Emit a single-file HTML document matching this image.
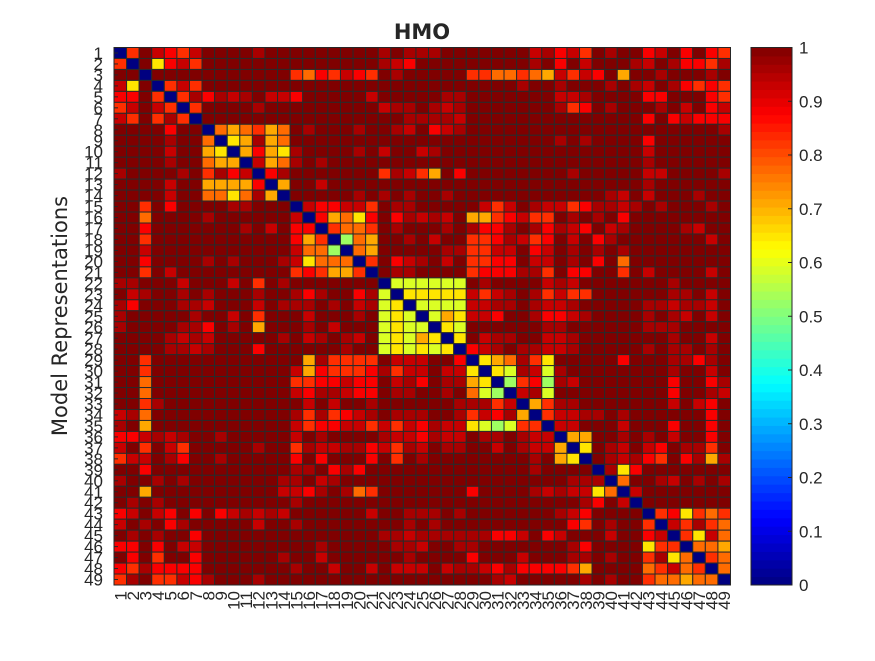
<!DOCTYPE html>
<html><head><meta charset="utf-8"><style>
html,body{margin:0;padding:0;background:#fff;}
svg text{font-family:"Liberation Sans",sans-serif;fill:#262626;}
</style></head><body>
<svg id="chart" width="875" height="656" viewBox="0 0 875 656" xmlns="http://www.w3.org/2000/svg">
<rect x="0" y="0" width="875" height="656" fill="#fff"/>
<text x="422" y="39" text-anchor="middle" font-size="21" font-weight="bold" style="font-family:'DejaVu Sans',sans-serif">HMO</text>
<text transform="translate(67,316) rotate(-90)" text-anchor="middle" font-size="21" style="font-family:'DejaVu Sans',sans-serif">Model Representations</text>
<g id="cells"></g>
<g id="ylabels"></g>
<g id="xlabels"></g>
<g id="cbar"></g>
</svg>
<script>
// Upper-triangle rows (row i, columns i..49); level codes -> values via levelValues
const levelCodes = "0123456789a";
const levelValues = [0, 0.53, 0.59, 0.65, 0.71, 0.77, 0.83, 0.88, 0.93, 0.96, 1.0];
const upperRows = [
"06a8768aaaa9aaaaaaaaa9a9"+"99aaaaaaa89786a9aa78a7a76",
"0a3786aaaaaaaaaaaaaa987"+"aaaaaaaaa9a7a8aaa98a97769",
"0aaaaaaaaaaa6576876a9a"+"aaaa66556548687a4aa9aaa9a",
"0686aaaaaaaaaaaaaaaaa"+"aaaaaaaa9aa9aaa9a98a97676",
"0697989a887aaaaa8aaa"+"aa99aaaaaaa889aaaa77aaa76",
"06aaaa9aaaaaaaaa899"+"a989aaaaaaa967a9aaa9a8a78",
"0aaaaaaaaaaaaaaaa9"+"9998aaaaaaaaaaaaaa7a78777",
"0545645a9aaa9aa98"+"a789aaaaaaaaaaaaaaaaaaaa9",
"034945aaaaaaaaaa"+"aaaaaaaaaaa9a9aaaa7aaaaaa",
"047439aaaa9a8aa"+"89aaaaaaaaaaaaaaaa8aaaaaa",
"08459a9aaaaaaa"+"aaaaaaaaaaaaaaaaaa9aaaaaa",
"079aaaaaaa698"+"64a7aaaaaaaa9aaaaa88aaaa9",
"04aa8aaaaaaa"+"aaaaaaaaaaaaaaaaaa9aaaaaa",
"0aaaaa9a9a9"+"aa9aaaaaaaaaaaa98a8aaa9aa",
"0877886a99"+"aaaaa868a988679989a9aaa9a",
"074537a79"+"898a4467866a9a9a7aaaaaaaa",
"06556a9a"+"aa9a9779a97987a89aaaa98a",
"0154aa9"+"a8aa667986 7a8a79aaaaaaa8a".replace(/ /g,""),
"054aaa"+"aa99668 8a78a9a9a9aaaaaaaa".replace(/ /g,""),
"06a78"+"9a8a6677a88a9a7a5aaaaaaaa",
"0a99"+"aaaa6777996a77aa6a8aaaa8a",
"0222222a9aaaa898aaaaaaa9aaaa",
"0333338689a96866aaaaaa99a8a",
"022228899a9889aaaaa998998a",
"0243887aa97789aaaa9a98a8a",
"032aaaaaa99aaaaaa999aaaa",
"03a899aa889aaaaaaa9aa8a",
"0789a99889aaaaa9a99a9a",
"0345963aaaaa7aaa9979a",
"032982 9aaaaaaaa9aa8a".replace(/ /g,""),
"0167198aaaaaaa7aa79",
"0892aaaaaaaaa7aa98",
"04699aaaaaaa8a87a",
"068899a9aaaaaa7a",
"088aaa8aaa7aa7a",
"044aa9a9a8aa7a",
"03a98a87a996a",
"0a989 76a7949".replace(/ /g,""),
"0937aaaaaaa",
"05aa98a9a9",
"08aaaaaaa",
"0aaaaaaa",
"0673656",
"086965",
"06385",
"0554",
"065",
"05",
"0"
];
const tickLabels = Array.from({length:49},(_,i)=>String(i+1));
const cbarTicks = [0,0.1,0.2,0.3,0.4,0.5,0.6,0.7,0.8,0.9,1];

const N = tickLabels.length;
const X0=114, X1=730.5, Y0=47.5, Y1=585;
const cw=(X1-X0)/N, ch=(Y1-Y0)/N;
const xScale = j => X0 + j*cw;
const yScale = i => Y0 + i*ch;
function jet(v){
  const c=t=>Math.max(0,Math.min(1,t));
  const r=c(1.5-Math.abs(4*v-3)), g=c(1.5-Math.abs(4*v-2)), b=c(1.5-Math.abs(4*v-1));
  return `rgb(${Math.round(r*255)},${Math.round(g*255)},${Math.round(b*255)})`;
}
function val(i,j){
  const a=Math.min(i,j), b=Math.max(i,j);
  const row=upperRows[a]||"";
  const ch=row[b-a]||"a";
  const k=levelCodes.indexOf(ch);
  return levelValues[k<0?10:k];
}
const NS="http://www.w3.org/2000/svg";
const cells=document.getElementById('cells');
for(let i=0;i<N;i++){for(let j=0;j<N;j++){
  const r=document.createElementNS(NS,'rect');
  r.setAttribute('x',xScale(j));r.setAttribute('y',yScale(i));
  r.setAttribute('width',cw);r.setAttribute('height',ch);
  r.setAttribute('fill',jet(val(i,j)));
  r.setAttribute('stroke','#2a2a2a');r.setAttribute('stroke-width','1');
  
  
  cells.appendChild(r);
}}
const yl=document.getElementById('ylabels'), xl=document.getElementById('xlabels');
for(let i=0;i<N;i++){
  const t=document.createElementNS(NS,'text');
  t.setAttribute('x',103);t.setAttribute('y',yScale(i)+ch/2+6);
  t.setAttribute('text-anchor','end');t.setAttribute('font-size','17');
  t.textContent=tickLabels[i];
  
  
  yl.appendChild(t);
  const tk=document.createElementNS(NS,'line');
  tk.setAttribute('x1',X0);tk.setAttribute('x2',X0+4);
  tk.setAttribute('y1',yScale(i)+ch/2);tk.setAttribute('y2',yScale(i)+ch/2);
  tk.setAttribute('stroke','#262626');
  
  
  yl.appendChild(tk);
  const u=document.createElementNS(NS,'text');
  const cx=xScale(i)+cw/2+6;
  u.setAttribute('transform',`translate(${cx},${Y1+6}) rotate(-90)`);
  u.setAttribute('text-anchor','end');u.setAttribute('font-size','17');
  u.textContent=tickLabels[i];
  
  
  xl.appendChild(u);
}
const border=document.createElementNS(NS,'rect');
border.setAttribute('x',X0);border.setAttribute('y',Y0);border.setAttribute('width',X1-X0);border.setAttribute('height',Y1-Y0);
border.setAttribute('fill','none');border.setAttribute('stroke','#262626');


cells.appendChild(border);
// colorbar
const cb=document.getElementById('cbar');
const CX=751, CW=41, CY0=47.5, CY1=585, steps=64;
const cbY = v => CY1 - v*(CY1-CY0);
for(let k=0;k<steps;k++){
  const r=document.createElementNS(NS,'rect');
  const v0=k/steps, v1=(k+1)/steps;
  r.setAttribute('x',CX);r.setAttribute('y',cbY(v1));r.setAttribute('width',CW);r.setAttribute('height',cbY(v0)-cbY(v1)+0.5);
  r.setAttribute('fill',jet((k+0.5)/steps));
  
  
  cb.appendChild(r);
}
const cbb=document.createElementNS(NS,'rect');
cbb.setAttribute('x',CX);cbb.setAttribute('y',CY0);cbb.setAttribute('width',CW);cbb.setAttribute('height',CY1-CY0);
cbb.setAttribute('fill','none');cbb.setAttribute('stroke','#262626');


cb.appendChild(cbb);
cbarTicks.forEach(v=>{
  const t=document.createElementNS(NS,'text');
  t.setAttribute('x',799);t.setAttribute('y',cbY(v)+6);t.setAttribute('font-size','17');
  t.textContent=String(v);
  
  
  cb.appendChild(t);
  const l=document.createElementNS(NS,'line');
  l.setAttribute('x1',CX+CW-4);l.setAttribute('x2',CX+CW);l.setAttribute('y1',cbY(v));l.setAttribute('y2',cbY(v));
  l.setAttribute('stroke','#262626');
  
  
  cb.appendChild(l);
});
</script>
</body></html>
